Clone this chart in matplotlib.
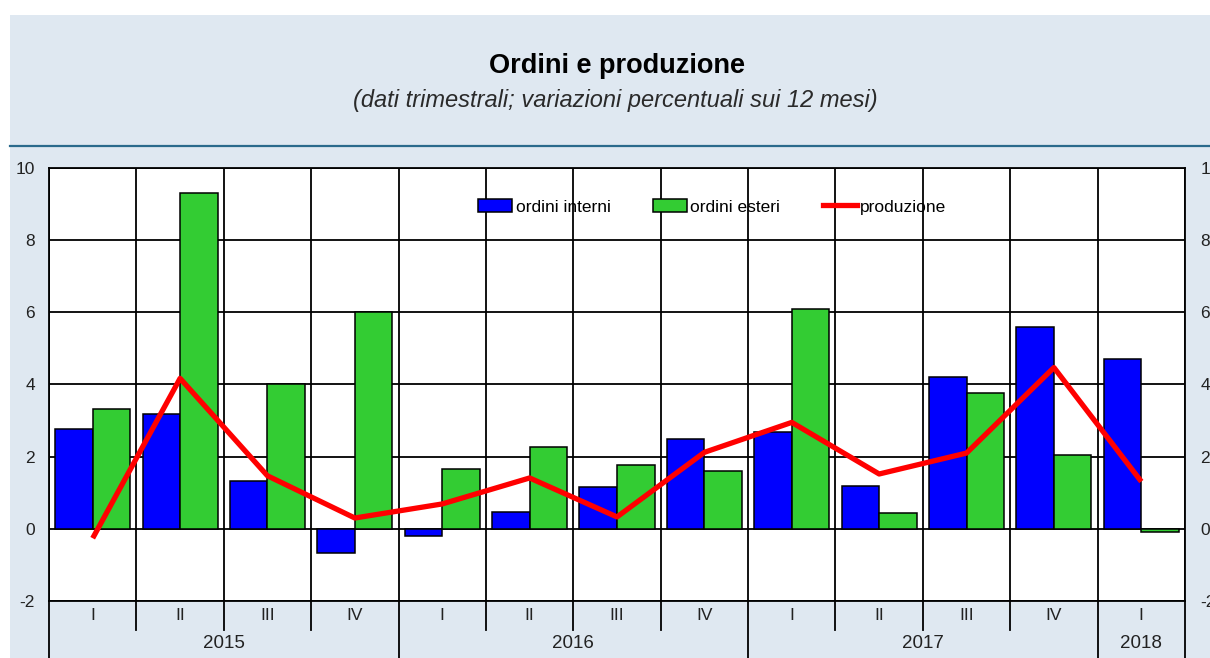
import matplotlib
matplotlib.use('Agg')
import matplotlib.pyplot as plt
from matplotlib.patches import Rectangle, Patch
from matplotlib.lines import Line2D
from matplotlib.transforms import blended_transform_factory
import numpy as np

plt.rcParams['font.family'] = ['Liberation Sans', 'DejaVu Sans']

# ---- data ----
quarters = ['I', 'II', 'III', 'IV', 'I', 'II', 'III', 'IV', 'I', 'II', 'III', 'IV', 'I']
years = ['2015', '2016', '2017', '2018']
year_counts = [4, 4, 4, 1]
ordini_interni = [2.78, 3.17, 1.33, -0.67, -0.21, 0.48, 1.16, 2.49, 2.68, 1.20, 4.21, 5.60, 4.71]
ordini_esteri = [3.33, 9.31, 4.00, 6.00, 1.66, 2.27, 1.78, 1.61, 6.10, 0.44, 3.76, 2.05, -0.10]
produzione = [-0.26, 4.17, 1.47, 0.30, 0.69, 1.41, 0.33, 2.12, 2.95, 1.52, 2.10, 4.47, 1.31]
yticks = [-2, 0, 2, 4, 6, 8, 10]

W, H = 1210, 658
fig = plt.figure(figsize=(W / 100, H / 100), dpi=100)
fig.patch.set_facecolor('white')

panel_col = '#dfe8f1'
fig.patches.append(Rectangle((10 / W, 0), 1 - 10 / W, 1 - 15 / H, transform=fig.transFigure,
                             facecolor=panel_col, edgecolor='none', zorder=-10))
fig.lines.append(Line2D([10 / W, 1], [1 - 145.5 / H] * 2, transform=fig.transFigure,
                        color='#2a6a8c', lw=1.6, zorder=-9))

fig.text(617 / W, 1 - 66 / H, 'Ordini e produzione', ha='center', va='center',
         fontsize=19.5, fontweight='bold', color='black')
fig.text(615 / W, 1 - 101 / H, '(dati trimestrali; variazioni percentuali sui 12 mesi)',
         ha='center', va='center', fontsize=17, fontstyle='italic', color='#2a2a2a')

left, right, top, bottom = 49, 1185, 168, 601
ax = fig.add_axes([left / W, 1 - bottom / H, (right - left) / W, (bottom - top) / H])
ax.set_facecolor('white')
n = len(quarters)
x = np.arange(n)
ax.set_xlim(-0.5, n - 0.5)
ax.set_ylim(-2, 10)

# grid
for k in range(n + 1):
    ax.axvline(k - 0.5, color='black', lw=1.3, zorder=1)
for t in yticks:
    ax.axhline(t, color='black', lw=1.3, zorder=1)

bw = 0.43
ax.bar(x - bw / 2, ordini_interni, width=bw, color='#0000ff', edgecolor='black', lw=1.1, zorder=2,
       label='ordini interni')
ax.bar(x + bw / 2, ordini_esteri, width=bw, color='#33cc33', edgecolor='black', lw=1.1, zorder=2,
       label='ordini esteri')
ax.plot(x, produzione, color='#ff0000', lw=3.8, zorder=3, label='produzione', solid_capstyle='butt')

for s in ax.spines.values():
    s.set_color('black')
    s.set_linewidth(1.3)

ax.set_xticks([])
ax.set_yticks(yticks)
ax.set_yticklabels([str(t) for t in yticks])
ax.tick_params(axis='y', length=0, pad=10, labelsize=12.5, labelcolor='#222222')

ax2 = ax.twinx()
ax2.set_ylim(-2, 10)
ax2.set_yticks(yticks)
ax2.set_yticklabels([str(t) for t in yticks])
ax2.tick_params(axis='y', length=0, pad=11, labelsize=12.5, labelcolor='#222222')
for s in ax2.spines.values():
    s.set_visible(False)

# category labels
tr = blended_transform_factory(ax.transData, ax.transAxes)
ph = bottom - top
q_y = -(615 - bottom) / ph
y_y = -(643 - bottom) / ph
q_sep = -(630 - bottom) / ph
y_sep = -(H - bottom) / ph
for i, q in enumerate(quarters):
    ax.text(i, q_y, q, transform=tr, ha='center', va='center', fontsize=12.5, color='#222222')
start = 0
bounds = [0]
for yr, c in zip(years, year_counts):
    ax.text(start + c / 2 - 0.5, y_y, yr, transform=tr, ha='center', va='center',
            fontsize=13.5, color='#222222')
    start += c
    bounds.append(start)
for k in range(n + 1):
    ybot = y_sep if k in bounds else q_sep
    ax.plot([k - 0.5, k - 0.5], [0, ybot], transform=tr, color='black', lw=1.3, clip_on=False)

handles = [Patch(facecolor='#0000ff', edgecolor='black', lw=1.1),
           Patch(facecolor='#33cc33', edgecolor='black', lw=1.1),
           Line2D([], [], color='#ff0000', lw=3.8)]
leg = ax.legend(handles, ['ordini interni', 'ordini esteri', 'produzione'], ncol=3, frameon=False,
                loc='center', bbox_to_anchor=(0.584, 0.91), fontsize=12.5,
                handlelength=1.95, handletextpad=0.2, columnspacing=2.45, handleheight=0.7)
leg.set_zorder(5)

fig.savefig('out.png', dpi=100, facecolor=fig.get_facecolor())
